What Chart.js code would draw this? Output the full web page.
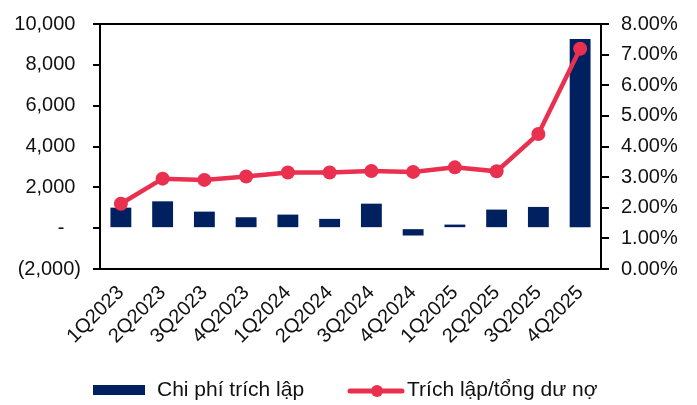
<!DOCTYPE html>
<html>
<head>
<meta charset="utf-8">
<script src="https://cdn.jsdelivr.net/npm/chart.js@4/dist/chart.umd.min.js"></script>
<style>
  html, body { margin: 0; padding: 0; background: #fff; }
  #wrap { width: 697px; height: 405px; position: relative; }
</style>
</head>
<body>
<div id="wrap"><canvas id="c" width="697" height="405"></canvas></div>
<script>
// Quarterly provisioning data
const quarters = ['1Q2023','2Q2023','3Q2023','4Q2023','1Q2024','2Q2024','3Q2024','4Q2024','1Q2025','2Q2025','3Q2025','4Q2025'];
// Chi phí trích lập (tỷ đồng)
const provisionCost = [1005, 1315, 810, 535, 665, 455, 1200, -360, 175, 910, 1040, 9270];
// Trích lập/tổng dư nợ (%)
const provisionRatio = [2.13, 2.95, 2.91, 3.02, 3.15, 3.15, 3.20, 3.17, 3.32, 3.19, 4.41, 7.19];

const seriesNames = ['Chi phí trích lập', 'Trích lập/tổng dư nợ'];
const NAVY = '#002060';
const RED = '#E9304E';
const FONT = '"Liberation Sans", Arial, sans-serif';
const FSIZE = 20;
const LEGEND_FSIZE = 21;

function fmtAmount(v) {
  if (v === 0) return '-   ';
  const s = Math.abs(v).toLocaleString('en-US');
  return v < 0 ? '(' + s + ')' : s + ' ';
}

// Frame line along the top of the plot and a hand-placed legend
const framePlugin = {
  id: 'frame',
  afterDraw(chart) {
    const { ctx, chartArea: a } = chart;
    ctx.save();
    ctx.strokeStyle = '#000';
    ctx.lineWidth = 2;
    ctx.beginPath();
    ctx.moveTo(a.left, a.top);
    ctx.lineTo(a.right, a.top);
    ctx.stroke();

    // legend
    ctx.font = LEGEND_FSIZE + 'px ' + FONT;
    ctx.textBaseline = 'middle';
    ctx.fillStyle = NAVY;
    ctx.fillRect(93, 385, 52, 10);
    ctx.fillStyle = '#111';
    ctx.fillText(seriesNames[0], 157, 390);

    ctx.strokeStyle = RED;
    ctx.lineWidth = 5;
    ctx.lineCap = 'round';
    ctx.beginPath();
    ctx.moveTo(350, 391);
    ctx.lineTo(402, 391);
    ctx.stroke();
    ctx.fillStyle = RED;
    ctx.beginPath();
    ctx.arc(377, 391, 6, 0, Math.PI * 2);
    ctx.fill();
    ctx.fillStyle = '#111';
    ctx.fillText(seriesNames[1], 407, 390);
    ctx.restore();
  }
};

new Chart(document.getElementById('c'), {
  data: {
    labels: quarters,
    datasets: [
      {
        type: 'line',
        label: seriesNames[1],
        data: provisionRatio,
        yAxisID: 'y1',
        borderColor: RED,
        backgroundColor: RED,
        borderWidth: 4.5,
        pointRadius: 7,
        pointBackgroundColor: RED,
        pointBorderWidth: 0,
        tension: 0,
        order: 0
      },
      {
        type: 'bar',
        label: seriesNames[0],
        data: provisionCost,
        yAxisID: 'y',
        backgroundColor: NAVY,
        categoryPercentage: 1,
        barPercentage: 0.5,
        order: 1
      }
    ]
  },
  options: {
    responsive: false,
    animation: false,
    devicePixelRatio: 1,
    layout: { padding: { top: 24, left: 0, right: 0, bottom: 0 } },
    plugins: { legend: { display: false }, tooltip: { enabled: false } },
    scales: {
      x: {
        grid: { display: false, drawTicks: false },
        border: { display: true, color: '#000', width: 2 },
        ticks: {
          color: '#111',
          font: { family: FONT, size: FSIZE },
          maxRotation: 45,
          minRotation: 45,
          padding: 12,
          autoSkip: false
        },
        afterFit(s) { s.height = 136; }
      },
      y: {
        position: 'left',
        min: -2000,
        max: 10000,
        grid: { drawOnChartArea: false, drawTicks: true, tickLength: 7, color: '#000', lineWidth: 2 },
        border: { display: true, color: '#000', width: 2 },
        ticks: {
          stepSize: 2000,
          color: '#111',
          padding: 12,
          font: { family: FONT, size: FSIZE },
          callback: (v) => fmtAmount(v)
        },
        afterFit(s) { s.width = 100; }
      },
      y1: {
        position: 'right',
        min: 0,
        max: 8,
        grid: { drawOnChartArea: false, drawTicks: true, tickLength: 8, color: '#000', lineWidth: 2 },
        border: { display: true, color: '#000', width: 2 },
        ticks: {
          stepSize: 1,
          color: '#111',
          padding: 12,
          font: { family: FONT, size: FSIZE },
          callback: (v) => v.toFixed(2) + '%'
        },
        afterFit(s) { s.width = 96; }
      }
    }
  },
  plugins: [framePlugin]
});
</script>
</body>
</html>
